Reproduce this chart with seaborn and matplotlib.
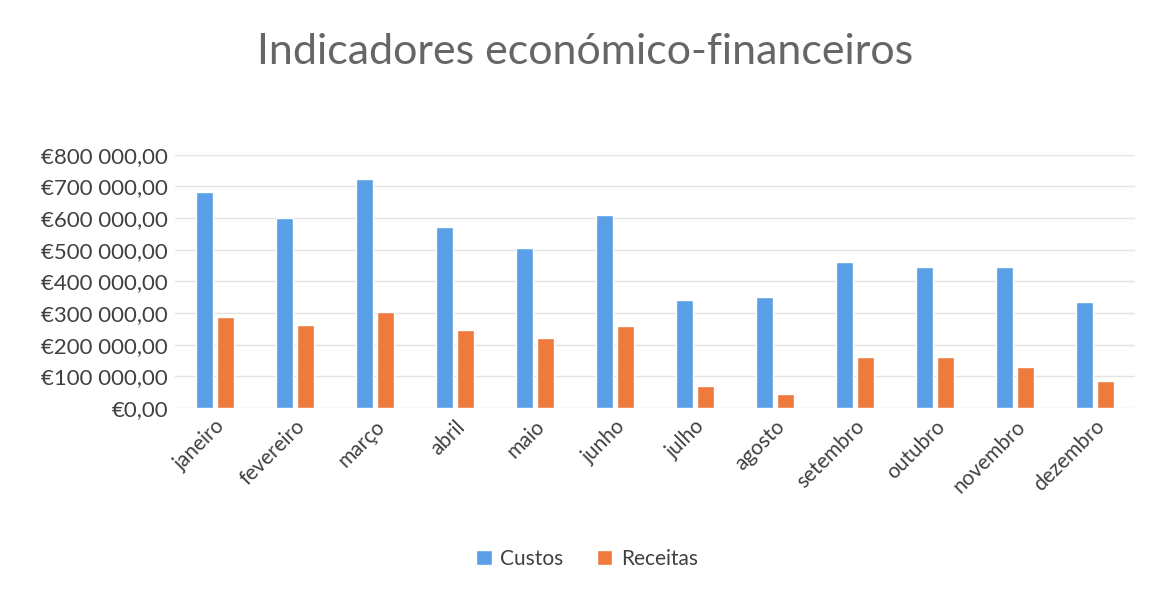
import numpy as np
import pandas as pd
import matplotlib
matplotlib.use("Agg")
from matplotlib import pyplot as plt
from matplotlib.ticker import FuncFormatter
import seaborn as sns

# data
meses = ['janeiro', 'fevereiro', 'março', 'abril', 'maio', 'junho',
         'julho', 'agosto', 'setembro', 'outubro', 'novembro', 'dezembro']
custos = [682000, 601000, 724000, 572000, 505000, 609000,
          342000, 350000, 460000, 445000, 445000, 335000]
receitas = [289000, 263000, 303000, 245000, 220000, 258000,
            69000, 45000, 162000, 160000, 130000, 86000]
series = ['Custos', 'Receitas']

df = pd.DataFrame({'mes': meses * 2,
                   'valor': custos + receitas,
                   'serie': [series[0]] * len(meses) + [series[1]] * len(meses)})

sns.set_style("white")
plt.rcParams['font.family'] = ['Lato', 'DejaVu Sans']

fig = plt.figure(figsize=(11.51, 5.93), dpi=100)
ax = fig.add_axes([0.152, 0.312, 0.834, 0.427])

sns.barplot(data=df, x='mes', y='valor', hue='serie', order=meses,
            palette=['#5B9FE6', '#EE7A3E'], width=0.52, gap=0.2,
            saturation=1, ax=ax)

ax.set_ylim(0, 800000)
ax.set_yticks(np.arange(0, 800001, 100000))

def euro(v, pos):
    s = f"{v:,.2f}".replace(",", " ").replace(".", ",")
    return "€" + s

ax.yaxis.set_major_formatter(FuncFormatter(euro))
ax.grid(axis='y', color='#e3e3e3', linewidth=1)
ax.set_axisbelow(True)
for sp in ax.spines.values():
    sp.set_visible(False)
ax.set_xlabel('')
ax.set_ylabel('')
ax.tick_params(axis='y', labelsize=16, colors='#404040', length=0, pad=5)
ax.tick_params(axis='x', labelsize=15, colors='#404040', length=0, pad=6)
plt.setp(ax.get_xticklabels(), rotation=45, ha='right', rotation_mode='anchor')

fig.suptitle('Indicadores económico-financeiros', fontsize=31, color='#666666',
             x=0.508, y=0.945)

handles, labels = ax.get_legend_handles_labels()
ax.legend_.remove()
fig.legend(handles, labels, loc='center', bbox_to_anchor=(0.51, 0.058), ncol=2,
           frameon=False, fontsize=15, handlelength=0.75, handleheight=0.75,
           handletextpad=0.4, columnspacing=1.6, labelcolor='#404040')

fig.savefig('out.png', dpi=100)
